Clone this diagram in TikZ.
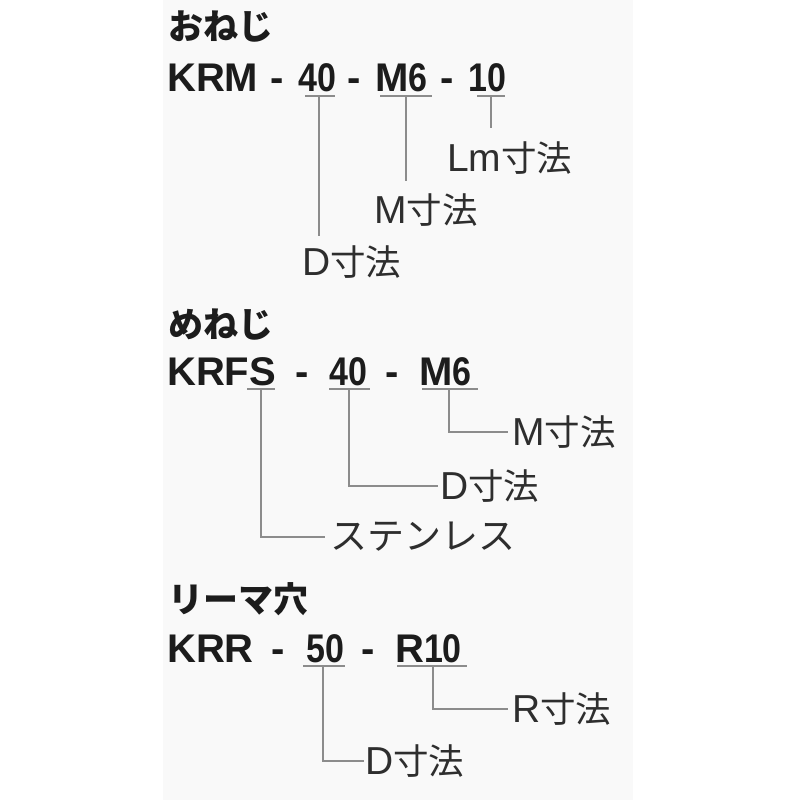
\documentclass[tikz,border=0pt]{standalone}
\usepackage{fontspec}
\setmainfont{Liberation Sans}
\newfontfamily\jp{Noto Sans CJK JP}
\newfontfamily\dgfont[FakeStretch=0.85]{Liberation Sans Bold}
\definecolor{inkc}{HTML}{1C1C1C}
\definecolor{lblc}{HTML}{2E2E2E}
\definecolor{lnc}{HTML}{8C8C8C}
\definecolor{panelc}{HTML}{F9F9F9}
\newcommand{\kj}[1]{{\jp\fontsize{35.5}{35.5}\selectfont #1}}
\newcommand{\dg}[1]{{\dgfont\fontsize{40}{40}\selectfont #1}}
\begin{document}
\begin{tikzpicture}[x=1pt,y=-1pt,
  titlebox/.style={anchor=west,inner sep=0pt,font=\jp\bfseries\fontsize{35}{35}\selectfont,text=inkc},
  codebox/.style={anchor=base west,inner sep=0pt,font=\bfseries\fontsize{40}{40}\selectfont,text=inkc},
  labbox/.style={anchor=west,inner sep=0pt,font=\fontsize{39}{39}\selectfont,text=lblc},
  uline/.style={draw=lnc,line width=1.6pt},
  conn/.style={draw=lnc,line width=1.3pt}]
\useasboundingbox (0,0) rectangle (800,800);
\fill[white] (0,0) rectangle (800,800);
\fill[panelc] (163,0) rectangle (633,800);

% ---------- おねじ ----------
\node[titlebox] (t1) at (168,27) {おねじ};
\node[codebox] (a1) at (167,91) {KRM};
\node[codebox] (a2) at (270,91) {-};
\node[codebox] (a3) at (298,91) {\dg{40}};
\node[codebox] (a4) at (347,91) {-};
\node[codebox] (a5) at (375,91) {M\dg{6}};
\node[codebox] (a6) at (440,91) {-};
\node[codebox] (a7) at (468,91) {\dg{10}};
\coordinate (u1l) at (305,96); \coordinate (u1r) at (335,96);
\coordinate (u2l) at (380,96); \coordinate (u2r) at (432,96);
\coordinate (u3l) at (477,96); \coordinate (u3r) at (505,96);
\draw[uline] (u1l) -- (u1r);
\draw[uline] (u2l) -- (u2r);
\draw[uline] (u3l) -- (u3r);
\coordinate (p1) at (319,96);
\coordinate (p2) at (406,96);
\coordinate (p3) at (491,96);
\node[labbox] (l3) at (447,158) {Lm\kj{寸法}};
\node[labbox] (l2) at (374,210) {M\kj{寸法}};
\node[labbox] (l1) at (302,262) {D\kj{寸法}};
\draw[conn,shorten >=9pt] (p1) -- (p1 |- l1.north);
\draw[conn,shorten >=12pt] (p2) -- (p2 |- l2.north);
\draw[conn,shorten >=13pt] (p3) -- (p3 |- l3.north);

% ---------- めねじ ----------
\node[titlebox] (t2) at (168,325) {めねじ};
\node[codebox] (b1) at (167,385) {KRFS};
\node[codebox] (b2) at (295,385) {-};
\node[codebox] (b3) at (329,385) {\dg{40}};
\node[codebox] (b4) at (385,385) {-};
\node[codebox] (b5) at (419,385) {M\dg{6}};
\coordinate (v1l) at (247,389); \coordinate (v1r) at (275,389);
\coordinate (v2l) at (329,389); \coordinate (v2r) at (370,389);
\coordinate (v3l) at (422,389); \coordinate (v3r) at (478,389);
\draw[uline] (v1l) -- (v1r);
\draw[uline] (v2l) -- (v2r);
\draw[uline] (v3l) -- (v3r);
\coordinate (q1) at (261,389);
\coordinate (q2) at (349,389);
\coordinate (q3) at (449,389);
\node[labbox] (m3) at (512,432) {M\kj{寸法}};
\node[labbox] (m2) at (440,486) {D\kj{寸法}};
\node[labbox,font=\jp\fontsize{37}{37}\selectfont] (m1) at (330,537) {ステンレス};
\draw[conn,shorten >=5pt] (q1) |- (m1.west);
\draw[conn,shorten >=2pt] (q2) |- (m2.west);
\draw[conn,shorten >=4pt] (q3) |- (m3.west);

% ---------- リーマ穴 ----------
\node[titlebox] (t3) at (168,599) {リーマ穴};
\node[codebox] (c1) at (167,662) {KRR};
\node[codebox] (c2) at (271,662) {-};
\node[codebox] (c3) at (306,662) {\dg{50}};
\node[codebox] (c4) at (361,662) {-};
\node[codebox] (c5) at (395,662) {R\dg{10}};
\coordinate (w1l) at (303,666); \coordinate (w1r) at (345,666);
\coordinate (w2l) at (397,666); \coordinate (w2r) at (467,666);
\draw[uline] (w1l) -- (w1r);
\draw[uline] (w2l) -- (w2r);
\coordinate (r1) at (323,666);
\coordinate (r2) at (433,666);
\node[labbox] (n2) at (512,709) {R\kj{寸法}};
\node[labbox] (n1) at (365,761) {D\kj{寸法}};
\draw[conn,shorten >=1pt] (r1) |- (n1.west);
\draw[conn,shorten >=4pt] (r2) |- (n2.west);
\end{tikzpicture}
\end{document}
